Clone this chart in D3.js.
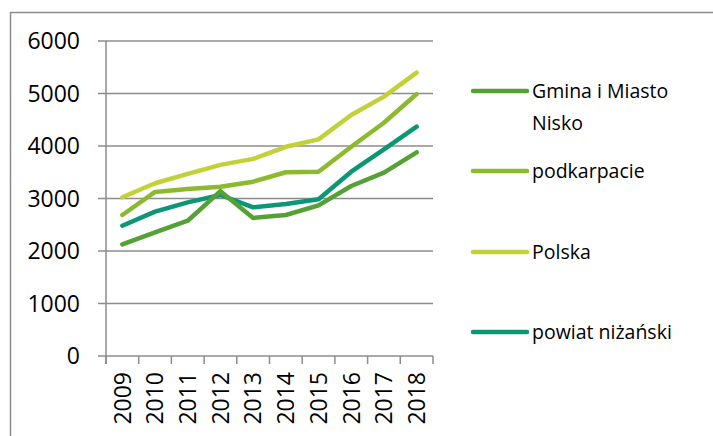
<!DOCTYPE html>
<html><head><meta charset="utf-8">
<script src="https://cdn.jsdelivr.net/npm/d3@7"></script>
<style>body{margin:0;background:#fff}svg{display:block}</style>
</head><body>
<script>
const years = ["2009","2010","2011","2012","2013","2014","2015","2016","2017","2018"];
const gmina = [2127,2356,2577,3140,2630,2686,2870,3238,3492,3880];
const podkarpacie = [2686,3125,3181,3225,3320,3500,3511,3987,4444,4990];
const polska = [3023,3290,3470,3640,3755,3985,4127,4590,4940,5397];
const powiat = [2482,2749,2927,3067,2832,2895,2984,3511,3937,4368];
const seriesNames = ["Gmina i Miasto Nisko","podkarpacie","Polska","powiat niżański"];
const seriesColors = ["#55a135","#8cba2f","#c2d137","#0b9674"];
const yTicks = [0,1000,2000,3000,4000,5000,6000];

(function(){
const W=713,H=436;
const svg=d3.select("body").append("svg").attr("width",W).attr("height",H);
const font="'Open Sans', sans-serif";
svg.append("rect").attr("x",10.5).attr("y",12.5).attr("width",W).attr("height",H)
  .attr("fill","none").attr("stroke","#8c8c8c").attr("stroke-width",1.5);

const pl=106,pr=433,pt=41,pb=356;
const x=d3.scaleBand().domain(years).range([pl,pr]);
const y=d3.scaleLinear().domain([0,6000]).range([pb,pt]);

svg.append("g").selectAll("line").data(yTicks).join("line")
  .attr("x1",pl-8).attr("x2",pr).attr("y1",d=>y(d)).attr("y2",d=>y(d))
  .attr("stroke","#8c8c8c").attr("stroke-width",1.5);
svg.append("line").attr("x1",pl).attr("x2",pl).attr("y1",pt).attr("y2",pb+8)
  .attr("stroke","#8c8c8c").attr("stroke-width",1.5);
const xt=years.map(d=>x(d)).concat([pr]);
svg.append("g").selectAll("line").data(xt).join("line")
  .attr("x1",d=>d).attr("x2",d=>d).attr("y1",pb).attr("y2",pb+8)
  .attr("stroke","#8c8c8c").attr("stroke-width",1.5);
svg.append("g").selectAll("text").data(yTicks).join("text")
  .attr("x",80).attr("y",d=>y(d)).attr("dy","0.36em").attr("text-anchor","end")
  .attr("font-family",font).attr("font-size",23).attr("fill","#000").text(d=>d);
svg.append("g").selectAll("text").data(years).join("text")
  .attr("transform",d=>`translate(${x(d)+x.bandwidth()/2},372) rotate(-90)`)
  .attr("dy","0.36em").attr("text-anchor","end")
  .attr("font-family",font).attr("font-size",23).attr("fill","#000").text(d=>d);

const data=[gmina,podkarpacie,polska,powiat];
const line=d3.line().x((d,i)=>x(years[i])+x.bandwidth()/2).y(d=>y(d));
[2,1,3,0].forEach(k=>{
  svg.append("path").attr("d",line(data[k])).attr("fill","none")
    .attr("stroke",seriesColors[k]).attr("stroke-width",4.5)
    .attr("stroke-linejoin","round").attr("stroke-linecap","round");
});

const legY=[91,171,252,332];
seriesNames.forEach((n,i)=>{
  const g=svg.append("g");
  g.append("line").attr("x1",473).attr("x2",527).attr("y1",legY[i]).attr("y2",legY[i])
    .attr("stroke",seriesColors[i]).attr("stroke-width",4.5).attr("stroke-linecap","round");
  const t=g.append("text").attr("x",532).attr("y",legY[i]).attr("dy","0.36em")
    .attr("font-family",font).attr("font-size",19.5).attr("fill","#000");
  if(i===0){
    t.append("tspan").attr("x",532).text("Gmina i Miasto");
    t.append("tspan").attr("x",532).attr("dy","1.65em").text("Nisko");
  } else t.text(n);
});
})();
</script>
</body></html>
